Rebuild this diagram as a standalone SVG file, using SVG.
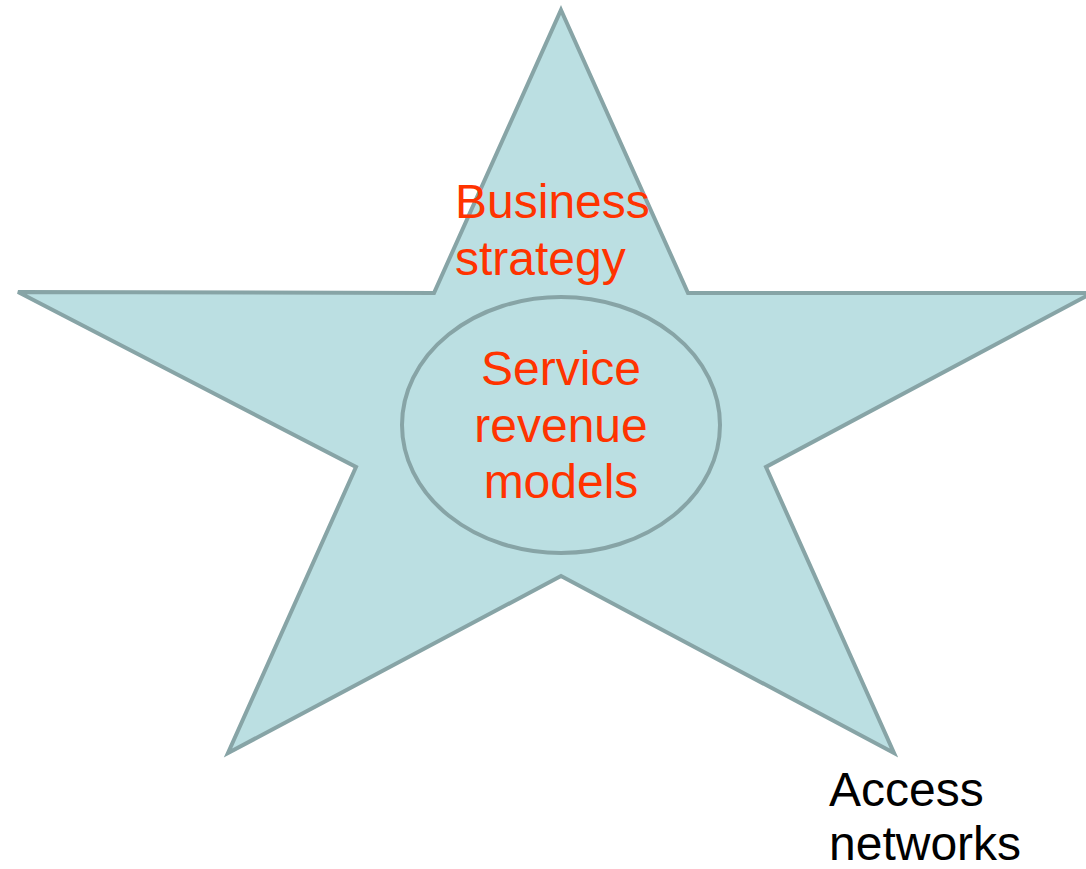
<svg xmlns="http://www.w3.org/2000/svg" width="1086" height="869" viewBox="0 0 1086 869">
  <style>
    .shape { fill: #bbdfe2; stroke: #87a4a6; stroke-width: 4; stroke-linejoin: miter; }
    .label { font-family: "Liberation Sans", Arial, sans-serif; font-size: 48px; }
    .red { fill: #ff3300; }
    .dark { fill: #000000; }
  </style>
  <rect width="1086" height="869" fill="#ffffff"/>
  <g id="star">
    <polygon class="shape" points="561,10 688,293 1092,293 766,467 894,753 561,576 228,753 356,467 18,292 434,293"/>
    <text class="label red" x="455" y="218">Business</text>
    <text class="label red" x="455" y="275">strategy</text>
  </g>
  <g id="core">
    <ellipse class="shape" cx="561" cy="425" rx="159" ry="128"/>
    <text class="label red" x="561" y="385" text-anchor="middle">Service</text>
    <text class="label red" x="561" y="442" text-anchor="middle">revenue</text>
    <text class="label red" x="561" y="498" text-anchor="middle">models</text>
  </g>
  <g id="access">
    <text class="label dark" x="829" y="806">Access</text>
    <text class="label dark" x="829" y="860">networks</text>
  </g>
  <g id="connectors"></g>
</svg>
